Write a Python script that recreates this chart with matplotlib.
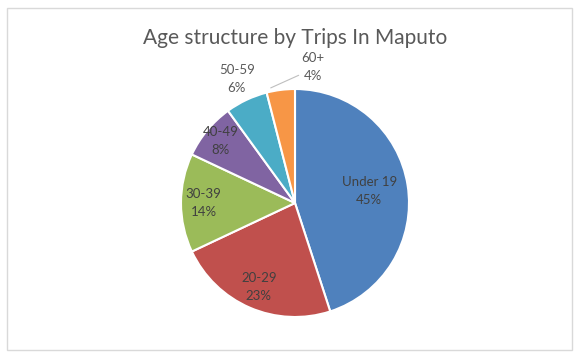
import numpy as np
import matplotlib
matplotlib.use('Agg')
import matplotlib.pyplot as plt
from matplotlib.patches import Rectangle

# datos del grafico
grupos = ['Under 19', '20-29', '30-39', '40-49', '50-59', '60+']
porcentajes = [45, 23, 14, 8, 6, 4]
colores = ['#4F81BD', '#C0504D', '#9BBB59', '#8064A2', '#4BACC6', '#F79646']
titulo = 'Age structure by Trips In Maputo'

plt.rcParams['font.family'] = ['Lato', 'DejaVu Sans']

W, H = 577, 354
fig = plt.figure(figsize=(W / 100, H / 100), dpi=100)
fig.patch.set_facecolor('white')

# marco gris alrededor del grafico
fig.patches.append(Rectangle((7 / W, 4 / H), 565 / W, 342 / H, transform=fig.transFigure,
                             fill=False, edgecolor='#d9d9d9', linewidth=1))

# ejes en pixeles para ubicar todo facil
ax = fig.add_axes([0, 0, 1, 1])

cx, cy, r = 295, H - 203, 114
wedges, _ = ax.pie(porcentajes, colors=colores, startangle=90, counterclock=False,
                   center=(cx, cy), radius=r, frame=True,
                   wedgeprops=dict(edgecolor='white', linewidth=1.5))
ax.set_xlim(0, W)
ax.set_ylim(0, H)
ax.set_aspect('equal')
ax.axis('off')

ax.text(cx, H - 38, titulo, ha='center', va='center', fontsize=15, color='#595959')

# etiquetas: distancia relativa al radio
dist = [0.66, 0.8, 0.8, 0.85, 1.2, 1.2]
for i, w in enumerate(wedges):
    ang = np.deg2rad((w.theta1 + w.theta2) / 2)
    txt = f'{grupos[i]}\n{porcentajes[i]}%'
    x = cx + dist[i] * r * np.cos(ang)
    y = cy + dist[i] * r * np.sin(ang)
    if i < 4:
        ax.text(x, y, txt, ha='center', va='center', fontsize=9.5, color='#404040',
                linespacing=1.6)
    elif i == 4:
        ax.text(x, y, txt, ha='center', va='center', fontsize=9.5, color='#595959',
                linespacing=1.6)
    else:
        xe = cx + r * np.cos(ang)
        ye = cy + r * np.sin(ang)
        ax.annotate(txt, xy=(xe - 10, ye + 2), xytext=(313, H - 67), ha='center', va='center',
                    fontsize=9.5, color='#595959', linespacing=1.6,
                    arrowprops=dict(arrowstyle='-', color='#bfbfbf', lw=0.8,
                                    shrinkA=0, shrinkB=0,
                                    relpos=(0.1, 0.3)))

plt.savefig('out.png', dpi=100)
